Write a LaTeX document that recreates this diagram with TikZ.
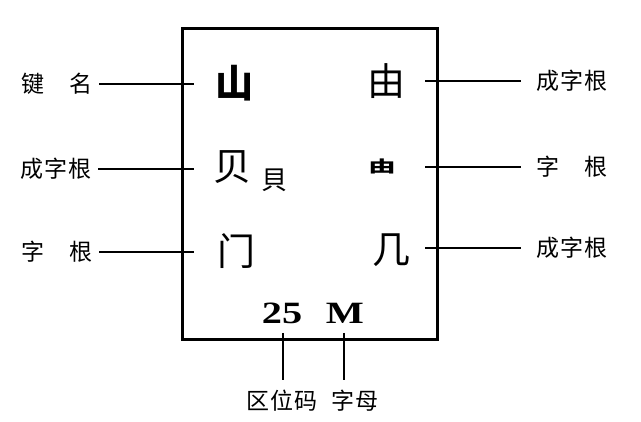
\documentclass[tikz,border=0pt]{standalone}
\usepackage{fontspec}
\usepackage{graphicx}
\newfontfamily\cjk[LetterSpace=4]{Noto Sans CJK SC}
\newfontfamily\cjkkey{Noto Sans CJK SC}
\newfontfamily\codefont{Liberation Serif}
\usetikzlibrary{positioning}
\tikzset{
    labnode/.style = {inner sep=0pt, outer sep=0pt, font=\cjk\fontsize{23}{23}\selectfont, text=black},
    keynode/.style = {inner sep=0pt, font=\cjkkey\fontsize{38}{38}\selectfont, text=black},
    keynodeb/.style = {inner sep=0pt, font=\cjkkey\bfseries\fontsize{38}{38}\selectfont, text=black},
    codenode/.style = {inner sep=0pt, xscale=1.3, transform shape, font=\codefont\bfseries\fontsize{31}{31}\selectfont, text=black},
    edgen/.style = {-, line width=2.2pt, black},
    edget/.style = {-, line width=1.3pt, black}, % thin
}
\begin{document}
\begin{tikzpicture}[x=1pt,y=-1pt]
  \useasboundingbox (0,0) rectangle (641,422);
  % frame
  \node[draw, line width=2.2pt, minimum width=255pt, minimum height=311pt, inner sep=0pt] (box) at (310,184) {};
  % keys
  \node[keynodeb] (shan) at (234,83) {山};
  \node[keynode] (you) at (386,81) {由};
  \node[keynode] (bei) at (232,167) {贝};
  \node[keynode, font=\cjkkey\fontsize{26}{26}\selectfont] (beit) at (274,180) {貝};
  \node[keynodeb, xscale=0.72, yscale=0.42, transform shape] (rad) at (382,166) {由};
  \node[keynode] (men) at (236,251) {门};
  \node[keynode] (ji) at (391,250) {几};
  \node[codenode] (code) at (282,313) {25};
  \node[codenode] (letter) at (345,313) {M};
  % left labels
  \node[labnode] (lname) at (57,84) {键　名};
  \node[labnode] (lzig) at (56,169) {成字根};
  \node[labnode] (lzg) at (57,252) {字　根};
  % right labels
  \node[labnode] (rzig) at (572,81) {成字根};
  \node[labnode] (rzg) at (572,167) {字　根};
  \node[labnode] (rzigb) at (572,248) {成字根};
  % bottom labels
  \node[labnode] (bqwm) at (282,401) {区位码};
  \node[labnode] (bzm) at (355,401) {字母};
  % line ends
  \coordinate (a1) at (194,84);
  \coordinate (a2) at (194,169);
  \coordinate (a3) at (194,252);
  \coordinate (b1) at (425,81);
  \coordinate (b2) at (425,167);
  \coordinate (b3) at (425,248);
  \coordinate (c1) at (283,333);
  \coordinate (c2) at (344,333);
  \draw[edgen, shorten <=7pt] (lname) -- (a1);
  \draw[edget, shorten <=7pt] (lzig) -- (a2);
  \draw[edgen, shorten <=7pt] (lzg) -- (a3);
  \draw[edgen, shorten >=16pt] (b1) -- (rzig);
  \draw[edget, shorten >=16pt] (b2) -- (rzg);
  \draw[edgen, shorten >=16pt] (b3) -- (rzigb);
  \draw[edget, shorten >=10pt] (c1) -- (c1 |- bqwm.north);
  \draw[edget, shorten >=10pt] (c2) -- (c2 |- bzm.north);
\end{tikzpicture}
\end{document}
